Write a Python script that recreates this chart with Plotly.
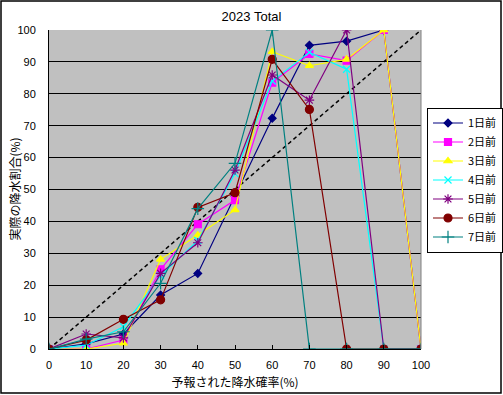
import plotly.graph_objects as go

x_vals = [0, 10, 20, 30, 40, 50, 60, 70, 80, 90, 100]
series_names = ["1日前", "2日前", "3日前", "4日前", "5日前", "6日前", "7日前"]
d1 = [0, 1.6, 4.7, 16.9, 23.7, 48, 72.3, 95.2, 96.5, 100, 0]
d2 = [0, 0, 2.8, 25, 39.1, 46.7, 83.5, 92.5, 90.4, 100, 0]
d3 = [0, 0, 1.8, 28.1, 35.7, 43.6, 93.2, 88.8, 90.8, 100, 0]
d4 = [0, 1.2, 7, 23, 34, 55, 84, 93, 87.7, 0, 0]
d5 = [0, 4.7, 3.5, 23.7, 33.3, 56.1, 85.9, 78, 100, 0, 0]
d6 = [0, 2.8, 9.3, 15.4, 44.4, 49, 90.8, 75.1, 0, 0, 0]
d7 = [0, 3.1, 5.4, 20.6, 44, 58.2, 100, 0, 0, 0, 0]
diag_x = [0, 100]
diag_y = [0, 100]
tick_vals = [0, 10, 20, 30, 40, 50, 60, 70, 80, 90, 100]

colors = ["#000080", "#FF00FF", "#FFFF00", "#00FFFF", "#800080", "#800000", "#008080"]
symbols = ["diamond", "square", "triangle-up", "x-thin-open", "asterisk-open", "circle", "cross-thin-open"]
sizes = [6, 7, 7, 7, 8, 8, 9]
data = [d1, d2, d3, d4, d5, d6, d7]

fig = go.Figure()
fig.add_trace(go.Scatter(x=diag_x, y=diag_y, mode="lines",
                         line=dict(color="black", dash="4px,3px", width=1.5),
                         showlegend=False, hoverinfo="skip"))
for name, ys, c, s, sz in zip(series_names, data, colors, symbols, sizes):
    fig.add_trace(go.Scatter(x=x_vals, y=ys, name=name, mode="lines+markers",
                             line=dict(color=c, width=1.2),
                             marker=dict(symbol=s, size=sz, color=c,
                                         line=dict(color=c, width=1.2))))

L, R, T, B = 49, 82, 30, 46
pw, ph = 503 - L - R, 395 - T - B

def px_x(p):
    return (p - L) / pw

def px_y(p):
    return (395 - B - p) / ph

fig.update_layout(
    width=503, height=395,
    margin=dict(l=L, r=R, t=T, b=B, autoexpand=False),
    paper_bgcolor="white",
    plot_bgcolor="#C0C0C0",
    font=dict(family="Liberation Sans, Arial, Noto Sans CJK JP", size=11, color="black"),
    title=dict(text="2023 Total", x=0.5, xref="container", y=1 - 16 / 395, yref="container",
               yanchor="middle", xanchor="center", font=dict(size=13)),
    showlegend=True,
    legend=dict(x=px_x(427), y=px_y(180), xanchor="left", yanchor="middle",
                bordercolor="black", borderwidth=1, bgcolor="white",
                font=dict(family="Noto Sans CJK JP", size=11),
                itemwidth=30, tracegroupgap=0),
    xaxis=dict(range=[0, 100], tickvals=tick_vals, showgrid=False, zeroline=False,
               showline=True, linecolor="black", linewidth=1, automargin=False,
               ticks="inside", ticklen=4, tickcolor="black",
               ticklabelstandoff=6,
               title=dict(text="予報された降水確率(%)", standoff=8,
                          font=dict(family="Noto Sans CJK JP", size=12))),
    yaxis=dict(range=[0, 100], tickvals=tick_vals, showgrid=True, gridcolor="black",
               gridwidth=1, zeroline=False, showline=True, linecolor="black", linewidth=1,
               ticks="", ticklabelstandoff=10, automargin=False,
               title=dict(text="", font=dict(family="Noto Sans CJK JP", size=12))),
)

# y-axis title as annotation for exact placement
fig.add_annotation(text="実際の降水割合(%)", textangle=-90, xref="paper", yref="paper",
                   x=px_x(14), y=0.5, xanchor="center", yanchor="middle", showarrow=False,
                   font=dict(family="Noto Sans CJK JP", size=12, color="black"))

# right border of plot area (gray) and outer chart border
fig.add_shape(type="line", xref="paper", yref="paper", x0=1, x1=1, y0=0, y1=1,
              line=dict(color="#808080", width=1))
fig.add_shape(type="rect", xref="paper", yref="paper",
              x0=px_x(1), x1=px_x(501), y0=px_y(393), y1=px_y(1),
              line=dict(color="black", width=1.5), layer="above")

fig.write_html("out.html", config={"displayModeBar": False},
               post_script="document.body.style.margin='0';document.body.style.overflow='hidden';")
